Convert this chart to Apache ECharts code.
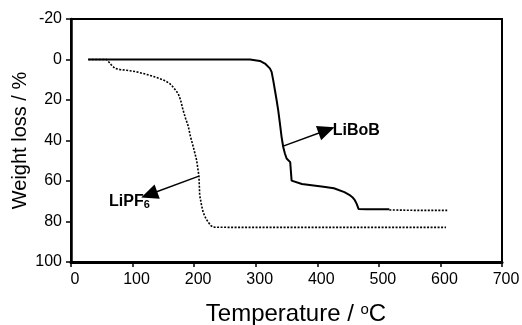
<!DOCTYPE html>
<html>
<head>
<meta charset="utf-8">
<script src="https://cdn.jsdelivr.net/npm/echarts@6/dist/echarts.min.js"></script>
<style>html,body{margin:0;padding:0;background:#fff;}#c{width:522px;height:325px;}</style>
</head>
<body>
<div id="c"></div>
<script>
// LiBoB (solid part)
var libobX = [28, 100, 200, 280, 290.6, 306.8, 315, 323, 325.8, 328.4, 331.2, 333.9, 336.5, 339.3, 342, 344.6, 347.4, 350.2, 356, 358.3, 360.9, 375, 394, 410, 427, 444, 452, 457, 461, 464, 467, 480, 495, 505, 517];
var libobY = [0, 0, 0, 0, 0, 0.7, 2, 4.4, 6.1, 10.2, 15.2, 20, 25, 31.6, 38.2, 43.1, 46.4, 48.9, 50.7, 59.8, 60.6, 61.5, 62.2, 62.8, 63.6, 65.5, 66.8, 68, 69.5, 71.3, 73.8, 74, 74, 74, 74];
// LiBoB (dotted tail)
var libobTailX = [517, 560, 611];
var libobTailY = [74.3, 74.5, 74.5];
// LiPF6 (dotted)
var lipf6X = [28, 58, 65, 71.4, 80, 90, 105, 117, 130, 144, 153, 160.5, 167, 174, 178, 182, 186, 190.5, 194, 198.5, 204, 207.8, 209, 212, 214.6, 219, 222.8, 227, 231, 260, 300, 400, 500, 609];
var lipf6Y = [0, 0, 2.5, 4.4, 5, 5.3, 6, 6.9, 8, 9.4, 10.5, 11.9, 14, 16.8, 20, 25, 29, 33, 38, 43, 49.7, 57.6, 67, 72, 75.4, 78.5, 80.3, 82, 82.8, 82.9, 82.9, 82.9, 82.9, 82.9];
// annotations
var libobArrow = [[344.6, 42.8], [415, 34.9]];
var lipf6Arrow = [[207.8, 57.6], [127, 66.7]];
var libobLabelAt = [417, 35.3];
var lipf6LabelAt = [53.6, 70.1];
var xTicks = {min: 0, max: 700, interval: 100};
var yTicks = {min: -20, max: 100, interval: 20};

function zip(xs, ys) { return xs.map(function (x, i) { return [x, ys[i]]; }); }

var FONT = '"Liberation Sans", Arial, sans-serif';
var chart = echarts.init(document.getElementById('c'), null, {renderer: 'canvas'});
var arrowLine = {
  silent: true, symbol: ['none', 'triangle'], symbolSize: [15, 17],
  label: {show: false}, lineStyle: {color: '#000', width: 1.5, type: 'solid'},
  emphasis: {disabled: true}
};
chart.setOption({
  animation: false,
  grid: {left: 71, right: 20, top: 19, bottom: 63, show: true, borderColor: '#000', borderWidth: 2,
    containLabel: false, outerBoundsMode: 'none'},
  xAxis: {
    type: 'value', min: xTicks.min, max: xTicks.max, interval: xTicks.interval,
    name: 'Temperature / {sup|o}C', nameLocation: 'middle', nameGap: 40, nameMoveOverlap: false,
    nameTextStyle: {fontFamily: FONT, fontSize: 24, color: '#000', padding: [0, 0, 0, 19],
      rich: {sup: {fontFamily: FONT, fontSize: 15, color: '#000', verticalAlign: 'top', padding: [0, 0, 10, 0]}}},
    axisLine: {show: true, onZero: false, lineStyle: {color: '#000', width: 3}},
    axisTick: {show: true, inside: false, length: 5, lineStyle: {color: '#000', width: 1.5}},
    axisLabel: {fontFamily: FONT, fontSize: 16, color: '#000', margin: 10, padding: [0, 0, 0, 8]},
    splitLine: {show: false}
  },
  yAxis: {
    type: 'value', inverse: true, min: yTicks.min, max: yTicks.max, interval: yTicks.interval,
    name: 'Weight loss / %', nameLocation: 'middle', nameGap: 41, nameMoveOverlap: false,
    nameTextStyle: {fontFamily: FONT, fontSize: 20, color: '#000'},
    axisLine: {show: true, onZero: false, lineStyle: {color: '#000', width: 2.5}},
    axisTick: {show: true, inside: false, length: 5, lineStyle: {color: '#000', width: 1.5}},
    axisLabel: {fontFamily: FONT, fontSize: 16, color: '#000', margin: 9},
    splitLine: {show: false}
  },
  series: [
    {
      type: 'line', name: 'LiPF6', data: zip(lipf6X, lipf6Y), showSymbol: false, symbol: 'none',
      lineStyle: {color: '#000', width: 1.6, type: [2, 1.5]},
      markLine: Object.assign({data: [[{coord: lipf6Arrow[0]}, {coord: lipf6Arrow[1]}]]}, arrowLine),
      markPoint: {silent: true, symbol: 'circle', symbolSize: 0,
        data: [{coord: lipf6LabelAt, value: 'LiPF6'}],
        label: {show: true, position: 'right', distance: 5,
          formatter: 'LiPF{sub|6}',
          fontFamily: FONT, fontSize: 16, fontWeight: 'bold', color: '#000',
          rich: {sub: {fontFamily: FONT, fontSize: 11, fontWeight: 'bold', color: '#000', verticalAlign: 'bottom', padding: [8, 0, 0, 0]}}}}
    },
    {
      type: 'line', name: 'LiBoB', data: zip(libobX, libobY), showSymbol: false, symbol: 'none',
      lineStyle: {color: '#000', width: 2},
      markLine: Object.assign({data: [[{coord: libobArrow[0]}, {coord: libobArrow[1]}]]}, arrowLine),
      markPoint: {silent: true, symbol: 'circle', symbolSize: 0,
        data: [{coord: libobLabelAt, value: 'LiBoB'}],
        label: {show: true, position: 'right', distance: 5, formatter: 'LiBoB',
          fontFamily: FONT, fontSize: 16, fontWeight: 'bold', color: '#000'}}
    },
    {
      type: 'line', name: 'LiBoB tail', data: zip(libobTailX, libobTailY), showSymbol: false, symbol: 'none',
      lineStyle: {color: '#000', width: 1.6, type: [2, 1.5]}
    }
  ]
});
</script>
</body>
</html>
